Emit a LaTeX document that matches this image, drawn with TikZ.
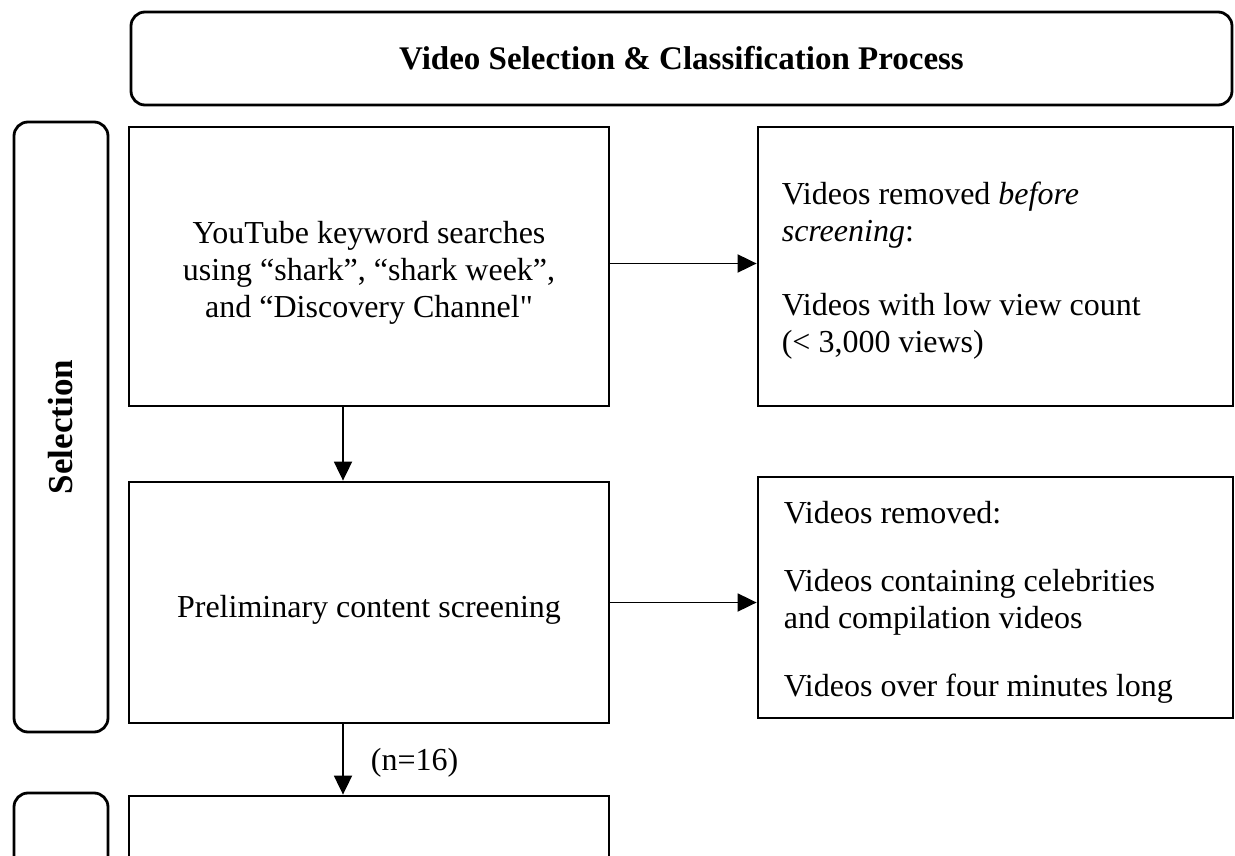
\documentclass[tikz,border=0pt]{standalone}
\usepackage{fontspec}
\setmainfont{Liberation Serif}[Ligatures=TeXOff]
\usetikzlibrary{arrows.meta}
\tikzset{
  box/.style={draw=black, line width=2.8pt, fill=white, inner sep=0pt},
  rbox/.style={draw=black, line width=2.8pt, rounded corners=14pt, inner sep=0pt, align=center},
  txt/.style={inner sep=0pt, font=\fontsize{32}{37}\selectfont},
  arr/.style={line width=1.9pt, -{Triangle[length=19pt,width=18pt]}},
  lbl/.style={inner sep=0pt, anchor=west, font=\fontsize{32}{37}\selectfont}
}
\begin{document}
\begin{tikzpicture}[x=1pt,y=-1pt]
\useasboundingbox (0,0) rectangle (1235,856);
\clip (0,0) rectangle (1235,856);
\fill[white] (0,0) rectangle (1235,856);
% title
\node[rbox, minimum width=1101pt, minimum height=93pt, font=\bfseries\fontsize{33}{38}\selectfont] (title) at (681.5,58.5) {Video Selection \& Classification Process};
% side labels
\node[rbox, minimum width=94pt, minimum height=610pt] (sel) at (61,427) {};
\node[rotate=90, inner sep=0pt, font=\bfseries\fontsize{35}{40}\selectfont] (seltxt) at (sel.center) {Selection};
\node[rbox, minimum width=94pt, minimum height=300pt] (cls) at (61,943) {};
% main boxes
\node[box, minimum width=480pt, minimum height=279pt] (b1) at (369,266.5) {};
\node[txt, align=center] (b1t) at ([yshift=-6pt]b1.center) {YouTube keyword searches\\ using “shark”, “shark week”,\\ and “Discovery Channel"};
\node[box, minimum width=480pt, minimum height=241pt] (b2) at (369,602.5) {};
\node[txt, align=center] (b2t) at ([yshift=-7pt]b2.center) {Preliminary content screening};
\node[box, minimum width=480pt, minimum height=300pt] (b3) at (369,946) {};
% side boxes
\node[box, minimum width=475pt, minimum height=279pt] (r1) at (995.5,266.5) {};
\node[txt, align=left, anchor=west] (r1t) at ([xshift=25pt, yshift=-4pt]r1.west) {Videos removed \textit{before}\\ \textit{screening}:\\[37pt] Videos with low view count\\ (< 3,000 views)};
\node[box, minimum width=475pt, minimum height=241pt] (r2) at (995.5,597.5) {};
\node[txt, align=left, anchor=west] (r2t) at ([xshift=27pt, yshift=-5pt]r2.west) {Videos removed:\\[31pt] Videos containing celebrities\\ and compilation videos\\[31pt] Videos over four minutes long};
% connectors
\coordinate (ax) at (343,0);
\draw[arr] (b1.south -| ax) -- (b2.north -| ax);
\draw[arr] (b2.south -| ax) -- (b3.north -| ax) node[lbl, midway, xshift=27pt, yshift=-3.5pt] (nlbl) {(n=16)};
\draw[arr] ([yshift=3pt]b1.east) -- ([yshift=3pt]b1.east -| r1.west);
\draw[arr] (b2.east) -- (b2.east -| r2.west);
\end{tikzpicture}
\end{document}
